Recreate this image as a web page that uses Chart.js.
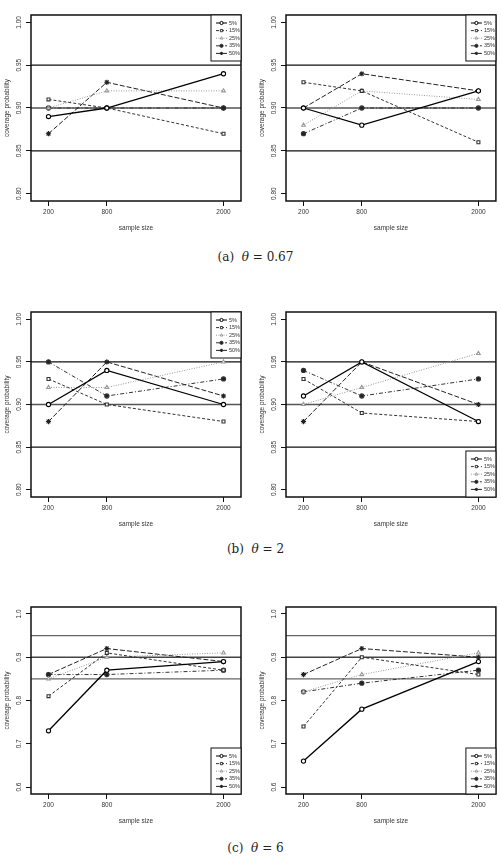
<!DOCTYPE html>
<html><head><meta charset="utf-8">
<script src="https://cdn.jsdelivr.net/npm/chart.js@4/dist/chart.umd.min.js"></script>
<style>
body{margin:0;width:501px;height:860px;background:#fff;position:relative;overflow:hidden}
canvas{position:absolute}
.cap{position:absolute;left:5px;width:501px;text-align:center;font-family:"DejaVu Serif","Liberation Serif",serif;font-size:12px;line-height:14px;color:#222}
</style></head><body>
<script>
// ---------- data ----------
const sampleSizes = [200, 800, 2000];
const seriesLabels = ['5%', '15%', '25%', '35%', '50%'];
const refLines = [0.85, 0.90, 0.95];
const yTicksAB = [0.80, 0.85, 0.90, 0.95, 1.00];
const yTicksC = [0.6, 0.7, 0.8, 0.9, 1.0];
// rows: 5%, 15%, 25%, 35%, 50%; columns: n = 200, 800, 2000
const panelA1 = [[0.89,0.90,0.94],[0.91,0.90,0.87],[0.90,0.92,0.92],[0.90,0.90,0.90],[0.87,0.93,0.90]];
const panelA2 = [[0.90,0.88,0.92],[0.93,0.92,0.86],[0.88,0.92,0.91],[0.87,0.90,0.90],[0.90,0.94,0.92]];
const panelB1 = [[0.90,0.94,0.90],[0.93,0.90,0.88],[0.92,0.92,0.95],[0.95,0.91,0.93],[0.88,0.95,0.91]];
const panelB2 = [[0.91,0.95,0.88],[0.93,0.89,0.88],[0.90,0.92,0.96],[0.94,0.91,0.93],[0.88,0.95,0.90]];
const panelC1 = [[0.73,0.87,0.89],[0.81,0.91,0.87],[0.85,0.90,0.91],[0.86,0.86,0.87],[0.86,0.92,0.89]];
const panelC2 = [[0.66,0.78,0.89],[0.74,0.90,0.86],[0.82,0.86,0.91],[0.82,0.84,0.87],[0.86,0.92,0.90]];
const captions = [['(a)', '0.67'], ['(b)', '2'], ['(c)', '6']];

// ---------- styles ----------
Chart.defaults.font.family = '"Liberation Sans", Arial, sans-serif';
const seriesStyle = [
  {color:'#000', dash:[], width:1.3, point:'circle', fill:'#fff'},
  {color:'#333', dash:[3,2], width:1, point:'rect', fill:'#fff'},
  {color:'#999', dash:[1,1.5], width:1, point:'triangle', fill:'#fff'},
  {color:'#333', dash:[4,2,1,2], width:1, point:'circle', fill:'#222'},
  {color:'#222', dash:[5,2], width:1, point:'star', fill:'#222'}
];

const rFrame = {
  id: 'rFrame',
  beforeDatasetsDraw(chart) {
    const {ctx, chartArea: a, scales: {y}} = chart;
    const o = chart.options.plugins.rFrame;
    ctx.save();
    refLines.forEach(v => {
      const py = y.getPixelForValue(v);
      ctx.beginPath();
      ctx.strokeStyle = v === 0.90 ? o.midColor : o.refColor;
      ctx.lineWidth = v === 0.90 ? 1.6 : 1.2;
      ctx.moveTo(a.left, py); ctx.lineTo(a.right, py); ctx.stroke();
    });
    ctx.restore();
  },
  afterDraw(chart) {
    const {ctx, chartArea: a, scales: {y}} = chart;
    const o = chart.options.plugins.rFrame;
    ctx.save();
    // box
    ctx.strokeStyle = '#111'; ctx.lineWidth = 1.5;
    ctx.strokeRect(a.left, a.top, a.right - a.left, a.bottom - a.top);
    // rotated y tick labels
    ctx.fillStyle = '#333';
    ctx.font = '6.5px "Liberation Sans", Arial, sans-serif';
    ctx.textAlign = 'center'; ctx.textBaseline = 'middle';
    y.ticks.forEach(t => {
      const py = y.getPixelForValue(t.value);
      ctx.save(); ctx.translate(a.left - 12, py); ctx.rotate(-Math.PI / 2);
      ctx.fillText(t.value.toFixed(o.decimals), 0, 0); ctx.restore();
    });
    // axis titles
    ctx.save(); ctx.translate(a.left - 24, (a.top + a.bottom) / 2); ctx.rotate(-Math.PI / 2);
    ctx.fillText('coverage probability', 0, 0); ctx.restore();
    ctx.fillText('sample size', (a.left + a.right) / 2, a.bottom + 27);
    // legend
    const lw = 30, lh = 46;
    const lx = a.right - lw, ly = o.legend === 'top' ? a.top : a.bottom - lh;
    ctx.fillStyle = '#fff'; ctx.fillRect(lx, ly, lw, lh);
    ctx.strokeStyle = '#111'; ctx.lineWidth = 1; ctx.strokeRect(lx, ly, lw, lh);
    chart.data.datasets.forEach((ds, i) => {
      const cy = ly + 8 + i * 7.6;
      ctx.save();
      ctx.strokeStyle = ds.borderColor; ctx.lineWidth = 1; ctx.setLineDash(ds.borderDash);
      ctx.beginPath(); ctx.moveTo(lx + 5, cy); ctx.lineTo(lx + 16, cy); ctx.stroke();
      ctx.setLineDash([]);
      ctx.fillStyle = ds.pointBackgroundColor; ctx.strokeStyle = ds.borderColor;
      Chart.helpers.drawPoint(ctx, {pointStyle: ds.pointStyle, radius: 1.6, borderWidth: 1, rotation: 0}, lx + 10.5, cy);
      ctx.fillStyle = '#333'; ctx.font = '5.5px "Liberation Sans", Arial, sans-serif';
      ctx.textAlign = 'left'; ctx.textBaseline = 'middle';
      ctx.fillText(ds.label, lx + 18, cy);
      ctx.restore();
    });
    ctx.restore();
  }
};

function makePanel(values, opt) {
  const cv = document.createElement('canvas');
  cv.width = opt.w; cv.height = opt.h;
  cv.style.left = opt.x + 'px'; cv.style.top = opt.y + 'px';
  cv.style.width = opt.w + 'px'; cv.style.height = opt.h + 'px';
  document.body.appendChild(cv);
  const datasets = values.map((vals, i) => {
    const s = seriesStyle[i];
    return {
      label: seriesLabels[i],
      data: vals.map((v, j) => ({x: sampleSizes[j], y: v})),
      borderColor: s.color, borderWidth: s.width, borderDash: s.dash,
      pointStyle: s.point, pointRadius: s.point === 'star' ? 2.6 : 2.1,
      pointBackgroundColor: s.fill, pointBorderColor: s.color, pointBorderWidth: 1.1,
      tension: 0, fill: false
    };
  });
  new Chart(cv, {
    type: 'line',
    data: {datasets},
    options: {
      responsive: false, animation: false, devicePixelRatio: 1,
      layout: {padding: {top: opt.padTop, right: opt.padRight, left: 0, bottom: 0}},
      plugins: {
        legend: {display: false}, tooltip: {enabled: false},
        rFrame: {legend: opt.legend, decimals: opt.decimals, refColor: opt.refColor, midColor: opt.midColor}
      },
      scales: {
        x: {
          type: 'linear', min: 20, max: 2180,
          afterBuildTicks: s => { s.ticks = sampleSizes.map(v => ({value: v})); },
          afterFit: s => { s.height = opt.xh; },
          ticks: {callback: v => String(v), font: {size: 6.5}, color: '#333', padding: 2, maxRotation: 0, autoSkip: false},
          grid: {display: true, drawOnChartArea: false, drawTicks: true, tickLength: 5, color: '#111', lineWidth: 1},
          border: {display: false}
        },
        y: {
          type: 'linear', min: opt.ymin, max: opt.ymax,
          afterBuildTicks: s => { s.ticks = opt.yticks.map(v => ({value: v})); },
          afterFit: s => { s.width = opt.yw; },
          ticks: {display: false},
          grid: {display: true, drawOnChartArea: false, drawTicks: true, tickLength: 5, color: '#111', lineWidth: 1},
          border: {display: false}
        }
      }
    },
    plugins: [rFrame]
  });
}

const ab = {ymin: 0.7914, ymax: 1.0086, yticks: yTicksAB, decimals: 2, refColor: '#111', midColor: '#555'};
const cc = {ymin: 0.584, ymax: 1.016, yticks: yTicksC, decimals: 1, refColor: '#666', midColor: '#444'};
makePanel(panelA1, Object.assign({}, ab, {x: 0,   y: 0, w: 250, h: 240, padTop: 15, padRight: 9, yw: 31, xh: 39, legend: 'top'}));
makePanel(panelA2, Object.assign({}, ab, {x: 250, y: 0, w: 251, h: 240, padTop: 15, padRight: 5, yw: 36, xh: 39, legend: 'top'}));
makePanel(panelB1, Object.assign({}, ab, {x: 0,   y: 297, w: 250, h: 240, padTop: 15, padRight: 9, yw: 31, xh: 40, legend: 'top'}));
makePanel(panelB2, Object.assign({}, ab, {x: 250, y: 297, w: 251, h: 240, padTop: 15, padRight: 5, yw: 36, xh: 40, legend: 'bottom'}));
makePanel(panelC1, Object.assign({}, cc, {x: 0,   y: 592, w: 250, h: 240, padTop: 15, padRight: 9, yw: 31, xh: 38, legend: 'bottom'}));
makePanel(panelC2, Object.assign({}, cc, {x: 250, y: 592, w: 251, h: 240, padTop: 15, padRight: 5, yw: 36, xh: 38, legend: 'bottom'}));

const capY = [250, 542, 841];
captions.forEach((c, i) => {
  const d = document.createElement('div');
  d.className = 'cap'; d.style.top = capY[i] + 'px';
  d.innerHTML = c[0] + '&nbsp; <i>θ</i> = ' + c[1];
  document.body.appendChild(d);
});
</script>
</body></html>
